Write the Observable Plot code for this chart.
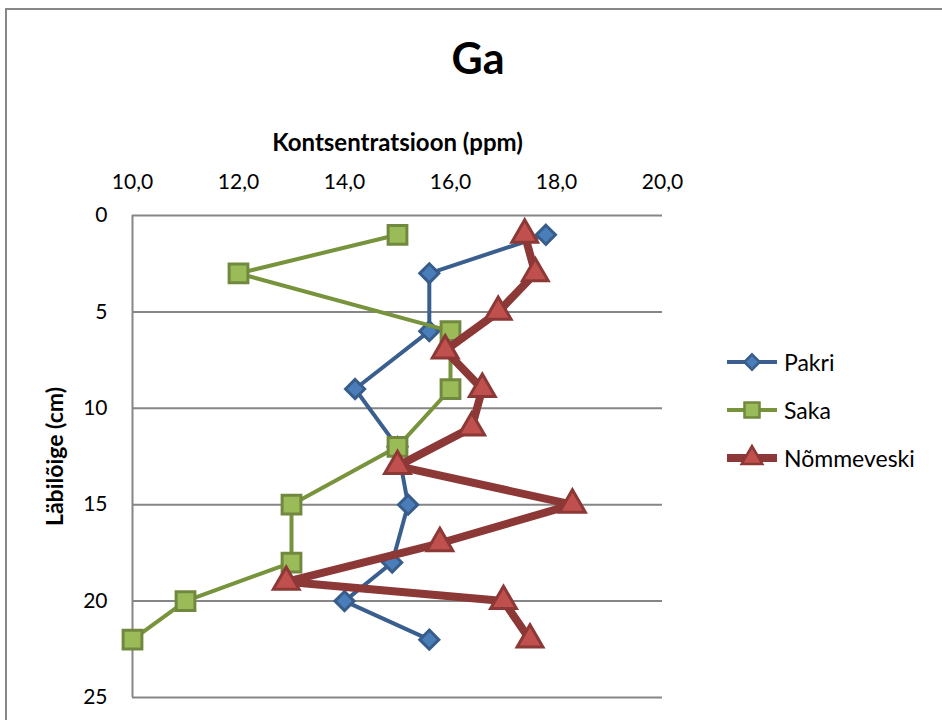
<!DOCTYPE html>
<html>
<head>
<meta charset="utf-8">
<script src="https://cdn.jsdelivr.net/npm/d3@7"></script>
<script src="https://cdn.jsdelivr.net/npm/@observablehq/plot@0.6"></script>
<style>
  body { margin: 0; background: #fff; }
  #chart { position: relative; width: 942px; height: 720px; overflow: hidden; font-family: Lato, "Open Sans", sans-serif; color: #000; }
  #frame { position: absolute; left: 5px; top: 8px; width: 1100px; height: 1100px; border: 2px solid #878787; box-sizing: border-box; }
  #title { position: absolute; left: 0; width: 956px; top: 36px; text-align: center; font-weight: bold; font-size: 43px; line-height: 1; }
  #plot { position: absolute; left: 0; top: 0; }
  #plot svg [aria-label="x-axis label"] text { font-weight: bold !important; font-size: 24px !important; }
  #plot svg [aria-label="y-axis label"] text { font-weight: bold !important; font-size: 23px !important; }
  #legend { position: absolute; left: 727px; top: 347px; }
  .row { display: flex; align-items: center; height: 30px; margin-bottom: 18px; font-size: 23px; }
  .row svg { margin-right: 7px; overflow: visible; }
</style>
</head>
<body>
<div id="chart">
  <div id="frame"></div>
  <div id="plot"></div>
  <div id="title">Ga</div>
  <div id="legend"></div>
</div>
<script>
// Gallium concentration (ppm) against sampling depth (cm) for three sites
const seriesNames = ["Pakri", "Saka", "Nõmmeveski"];

const pakriDepth = [1, 3, 6, 9, 12, 15, 18, 20, 22];
const pakriPpm   = [17.8, 15.6, 15.6, 14.2, 15.0, 15.2, 14.9, 14.0, 15.6];

const sakaDepth = [1, 3, 6, 9, 12, 15, 18, 20, 22];
const sakaPpm   = [15, 12, 16, 16, 15, 13, 13, 11, 10];

const nommeDepth = [1, 3, 5, 7, 9, 11, 13, 15, 17, 19, 20, 22];
const nommePpm   = [17.4, 17.6, 16.9, 15.9, 16.6, 16.4, 15.0, 18.3, 15.8, 12.9, 17.0, 17.5];

const xTicks = [10, 12, 14, 16, 18, 20];
const yTicks = [0, 5, 10, 15, 20, 25];

// per-series drawing style
const styles = {
  "Pakri":      { line: "#3A5F8F", fill: "#4A7EBB", edge: "#385D8A", width: 4, symbol: "diamond2", r: 8.6 },
  "Saka":       { line: "#77933C", fill: "#9BBB59", edge: "#71893F", width: 4, symbol: "square",   r: 10.6 },
  "Nõmmeveski": { line: "#8C3836", fill: "#C0504D", edge: "#8C3836", width: 8, symbol: "triangle", r: 9.6 }
};

const toRows = (name, depth, ppm) => depth.map((d, i) => ({ series: name, depth: d, ppm: ppm[i] }));
const seriesRows = {
  "Pakri": toRows("Pakri", pakriDepth, pakriPpm),
  "Saka": toRows("Saka", sakaDepth, sakaPpm),
  "Nõmmeveski": toRows("Nõmmeveski", nommeDepth, nommePpm)
};

const comma = d => d.toFixed(1).replace(".", ",");

const seriesMarks = seriesNames.flatMap(name => {
  const s = styles[name];
  return [
    Plot.line(seriesRows[name], { x: "ppm", y: "depth", stroke: s.line, strokeWidth: s.width, strokeLinejoin: "round", curve: "linear" }),
    Plot.dot(seriesRows[name], { x: "ppm", y: "depth", symbol: s.symbol, r: s.r, fill: s.fill, stroke: s.edge, strokeWidth: 3 })
  ];
});

const chart = Plot.plot({
  width: 942,
  height: 720,
  marginTop: 215,
  marginLeft: 132,
  marginRight: 280,
  marginBottom: 23,
  style: { fontFamily: "Lato, 'Open Sans', sans-serif", fontSize: "21px", color: "#000", background: "transparent", overflow: "visible" },
  x: { domain: [10, 20] },
  y: { domain: [0, 25], reverse: true },
  marks: [
    Plot.gridY(yTicks, { stroke: "#868686", strokeOpacity: 1, strokeWidth: 2 }),
    Plot.ruleX([10], { stroke: "#868686", strokeWidth: 2 }),
    Plot.axisX({ anchor: "top", ticks: xTicks, tickFormat: comma, tickSize: 0, tickPadding: 27,
                 label: "Kontsentratsioon (ppm)", labelAnchor: "center", labelArrow: "none", labelOffset: 82 }),
    Plot.axisY({ anchor: "left", ticks: yTicks, tickFormat: d => String(d), tickSize: 0, tickPadding: 25,
                 label: "Läbilõige (cm)", labelAnchor: "center", labelArrow: "none", labelOffset: 86 }),
    ...seriesMarks
  ]
});
document.getElementById("plot").appendChild(chart);

// legend: short line sample with the series marker, then the name
const legend = document.getElementById("legend");
seriesNames.forEach(name => {
  const s = styles[name];
  const row = document.createElement("div");
  row.className = "row";
  const svg = d3.create("svg").attr("width", 50).attr("height", 30);
  svg.append("line").attr("x1", 0).attr("x2", 50).attr("y1", 15).attr("y2", 15)
    .attr("stroke", s.line).attr("stroke-width", s.width);
  const sym = { diamond2: d3.symbolDiamond2, square: d3.symbolSquare, triangle: d3.symbolTriangle }[s.symbol];
  svg.append("path").attr("transform", "translate(25,15)")
    .attr("d", d3.symbol(sym, Math.PI * (s.r * 0.8) ** 2)())
    .attr("fill", s.fill).attr("stroke", s.edge).attr("stroke-width", 2.5);
  row.appendChild(svg.node());
  const label = document.createElement("span");
  label.textContent = name;
  row.appendChild(label);
  legend.appendChild(row);
});
</script>
</body>
</html>
